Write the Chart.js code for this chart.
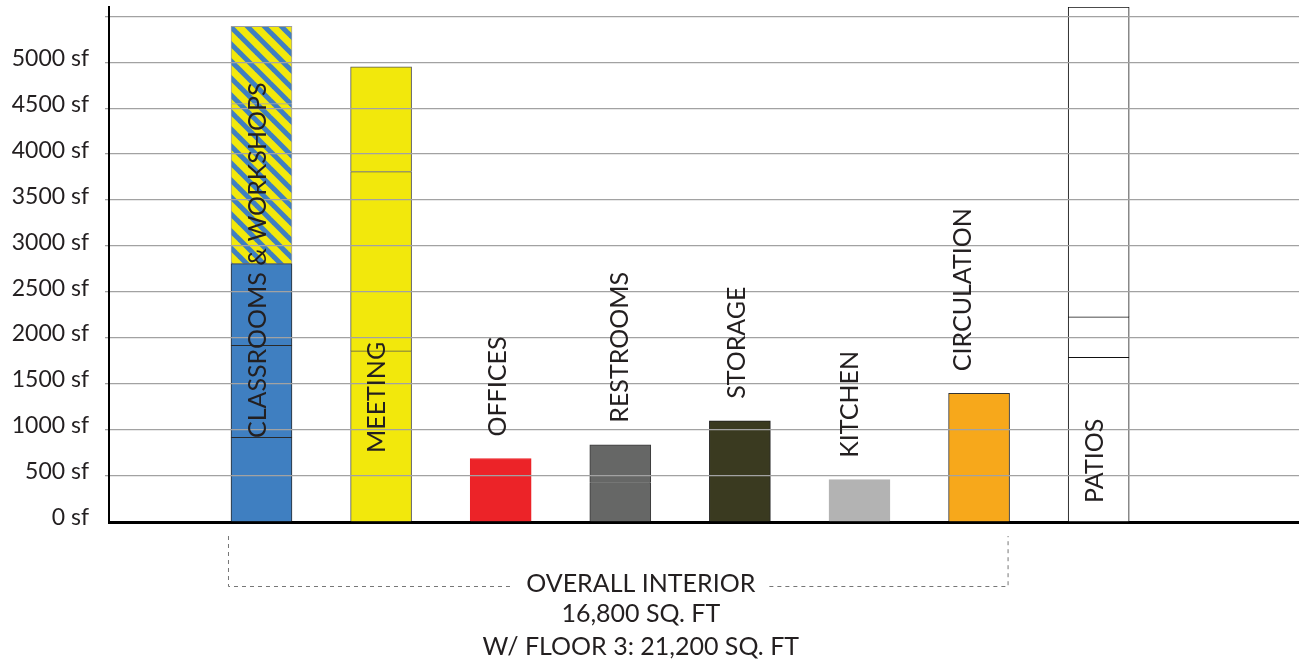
<!DOCTYPE html>
<html>
<head>
<meta charset="utf-8">
<script src="https://cdn.jsdelivr.net/npm/chart.js@4.4.1/dist/chart.umd.min.js"></script>
<style>
    html, body { margin: 0; padding: 0; background: #fff; }
    #wrap { width: 1299px; height: 664px; }
</style>
</head>
<body>
<div id="wrap"><canvas id="chart" width="1299" height="664"></canvas></div>
<script>
const categories = [
    'CLASSROOMS & WORKSHOPS', 'MEETING', 'OFFICES', 'RESTROOMS',
    'STORAGE', 'KITCHEN', 'CIRCULATION', 'PATIOS'
];

// square feet of each stacked piece, bottom to top (null = no piece)
const segment1 = [920, 1860, 690, 430, 1100, 460, 1400, 1790];
const segment2 = [1000, 1950, null, 410, null, null, null, 440];
const segment3 = [890, 1140, null, null, null, null, null, 3370];
const segment4 = [1740, null, null, null, null, null, null, null];
const segment5 = [840, null, null, null, null, null, null, null];

const yTicks = [0, 500, 1000, 1500, 2000, 2500, 3000, 3500, 4000, 4500, 5000, 5500];
const tickLabels = ['0 sf', '500 sf', '1000 sf', '1500 sf', '2000 sf', '2500 sf',
    '3000 sf', '3500 sf', '4000 sf', '4500 sf', '5000 sf', ''];

const summaryLines = ['OVERALL INTERIOR', '16,800 SQ. FT', 'W/ FLOOR 3: 21,200 SQ. FT'];

// styles
const fillColors = ['#3f7fc1', '#f2e80c', '#ec2328', '#666766', '#3a3a20', '#b3b3b3', '#f7a81b', '#ffffff'];
const edgeColors = ['#2a2a2a', '#555555', '#ec2328', '#3a3a3a', '#1e1e1e', '#b3b3b3', '#333333', '#111111'];
const hatchFromSegment = [3, 99, 99, 99, 99, 99, 99, 99];
const textColor = '#231f20';
const fontFamily = 'Lato, "Open Sans", sans-serif';

const canvas = document.getElementById('chart');
const ctx = canvas.getContext('2d');

function makeHatch(){
    const tile = document.createElement('canvas');
    tile.width = tile.height = 17;
    const g = tile.getContext('2d');
    g.fillStyle = '#f2e80c';
    g.fillRect(0, 0, 17, 17);
    g.strokeStyle = '#3f7fc1';
    g.lineWidth = 5;
    [-17, 0, 17].forEach(o => {
        g.beginPath();
        g.moveTo(o - 2, -2);
        g.lineTo(o + 19, 19);
        g.stroke();
    });
    return ctx.createPattern(tile, 'repeat');
}
const hatch = makeHatch();

const segments = [segment1, segment2, segment3, segment4, segment5];
const totals = categories.map((c, i) => segments.reduce((s, seg) => s + (seg[i] || 0), 0));

// rotated category names
const barLabels = {
    id: 'barLabels',
    afterDraw(chart, args, opts){
        const c = chart.ctx;
        const y = chart.scales.y;
        const base = y.getPixelForValue(0);
        const bars = chart.getDatasetMeta(0).data;
        c.save();
        c.font = opts.font;
        c.fillStyle = textColor;
        c.textAlign = 'left';
        c.textBaseline = 'middle';
        categories.forEach((label, i) => {
            const top = y.getPixelForValue(Math.min(totals[i], y.max));
            const start = opts.inside[i] != null ? base - opts.inside[i] : top - opts.gap;
            c.save();
            c.translate(bars[i].x + opts.dx[i], start);
            c.rotate(-Math.PI / 2);
            c.fillText(label, 0, 0);
            c.restore();
        });
        c.restore();
    }
};

// dashed bracket under the interior bars + totals
const summary = {
    id: 'summary',
    afterDraw(chart, args, opts){
        const c = chart.ctx;
        const base = chart.scales.y.getPixelForValue(0);
        const bars = chart.getDatasetMeta(0).data;
        const first = bars[0], last = bars[6];
        const left = first.x - first.width / 2 - 3;
        const right = last.x + last.width / 2 - 2;
        const lineY = base + 64.5;
        const cx = (left + right) / 2 + 23;

        c.save();
        c.font = opts.font;
        const gap = c.measureText(summaryLines[0]).width / 2 + 14;

        c.strokeStyle = '#777';
        c.lineWidth = 1;
        c.setLineDash([4, 4]);
        c.beginPath();
        c.moveTo(left + 0.5, base + 14);
        c.lineTo(left + 0.5, lineY);
        c.lineTo(cx - gap, lineY);
        c.moveTo(cx + gap, lineY);
        c.lineTo(right + 0.5, lineY);
        c.lineTo(right + 0.5, base + 14);
        c.stroke();

        c.setLineDash([]);
        c.fillStyle = textColor;
        c.textAlign = 'center';
        c.textBaseline = 'middle';
        c.fillText(summaryLines[0], cx, base + 62);
        c.fillText(summaryLines[1], cx, base + 92);
        c.fillText(summaryLines[2], cx, base + 125);
        c.restore();
    }
};

new Chart(ctx, {
    type: 'bar',
    data: {
        datasets: segments.map((seg, s) => ({
            label: 'segment ' + (s + 1),
            data: seg.map((v, i) => ({x: i, y: v})),
            backgroundColor: (c) => s >= hatchFromSegment[c.dataIndex] ? hatch : fillColors[c.dataIndex],
            borderColor: (c) => s >= hatchFromSegment[c.dataIndex] ? 'rgba(40,40,40,0.45)' : edgeColors[c.dataIndex],
            borderWidth: 1,
            barThickness: 61
        }))
    },
    options: {
        responsive: false,
        animation: false,
        devicePixelRatio: 1,
        layout: {padding: {top: 7, left: 0, right: 0, bottom: 0}},
        plugins: {
            legend: {display: false},
            tooltip: {enabled: false},
            barLabels: {
                font: '25px ' + fontFamily,
                inside: [84, 69, null, null, null, null, null, 19],
                dx: [-4, -4, -3, 0, -3, -10, -16, -4],
                gap: 22
            },
            summary: {font: '25px ' + fontFamily}
        },
        scales: {
            x: {
                type: 'linear',
                offset: false,
                min: -1.275,
                max: 8.675,
                stacked: true,
                grid: {display: false},
                ticks: {display: false},
                border: {display: true, color: '#000', width: 3},
                afterFit(scale){
                    scale.height = 142;
                    scale.paddingLeft = scale.paddingRight = 0;
                }
            },
            y: {
                min: 0,
                max: 5600,
                stacked: true,
                afterBuildTicks(scale){ scale.ticks = yTicks.map(v => ({value: v})); },
                ticks: {
                    padding: 16,
                    labelOffset: -4,
                    color: textColor,
                    font: {family: fontFamily, size: 23},
                    callback: (v) => tickLabels[yTicks.indexOf(v)]
                },
                grid: {
                    z: 1,
                    color: (c) => c.tick && c.tick.value === 0 ? 'rgba(0,0,0,0)' : '#a2a2a2',
                    lineWidth: 1.3,
                    tickLength: 4
                },
                border: {display: true, color: '#000', width: 2, z: 1},
                afterFit(scale){
                    scale.width = 109;
                    scale.paddingTop = scale.paddingBottom = 0;
                }
            }
        }
    },
    plugins: [barLabels, summary]
});
</script>
</body>
</html>
